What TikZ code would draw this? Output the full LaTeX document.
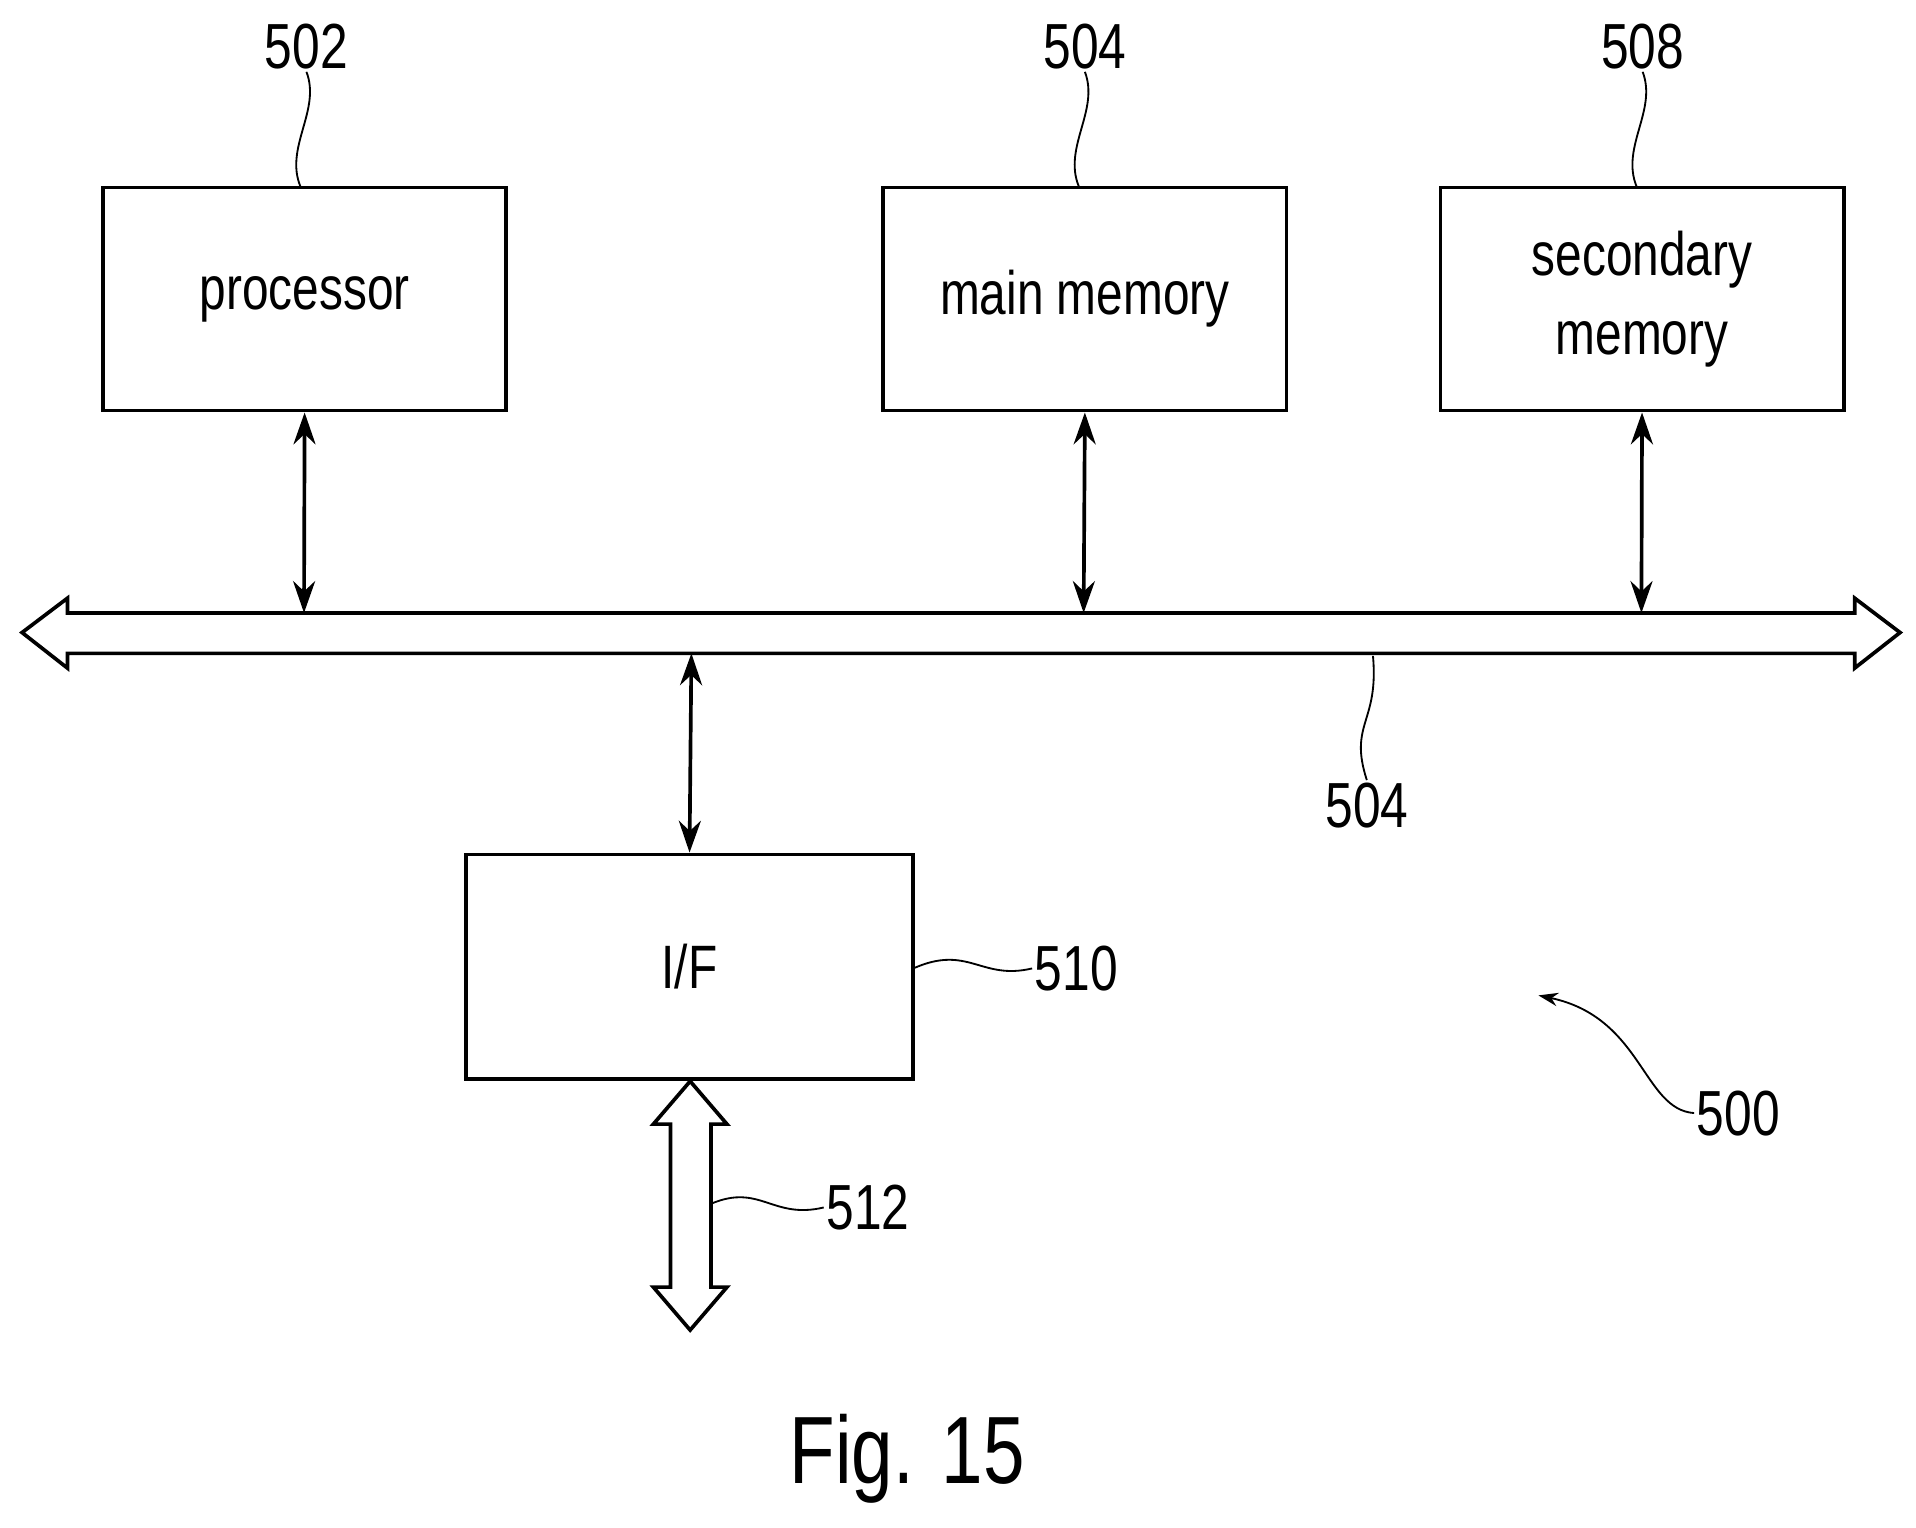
\documentclass[tikz,border=0pt]{standalone}
\usepackage{fontspec}
\setmainfont{Liberation Sans}[FakeStretch=0.78]
\usetikzlibrary{arrows.meta}
\begin{document}
\begin{tikzpicture}[x=1pt,y=-1pt,
  box/.style={draw,line width=3pt,minimum width=329pt,minimum height=182pt,inner sep=0pt,font=\fontsize{50}{60}\selectfont,align=center},
  lab/.style={font=\fontsize{52}{60}\selectfont,inner sep=2pt},
  conn/.style={line width=3pt,{Stealth[length=26pt,width=18pt]}-{Stealth[length=26pt,width=18pt]}},
  lead/.style={line width=1.5pt},
  fat/.style={draw,line width=3pt,fill=white,line join=miter}]
\useasboundingbox (0,0) rectangle (1563,1246);
\node[box] (p) at (248.5,244) {processor};
\node[box] (m) at (885,244) {main memory};
\node[box] (s) at (1339.5,244) {secondary\\[4pt]memory};
\node[box,minimum width=365pt,minimum height=183pt] (if) at (562.5,788.5) {I/F};
% bus
\draw[fat] (18,516) -- (55,488) -- (55,500) -- (1513,500) -- (1513,488) -- (1550,516) -- (1513,545) -- (1513,533) -- (55,533) -- (55,545) -- cycle;
\coordinate (b1) at (248,500); \coordinate (b2) at (884,500); \coordinate (b3) at (1339,500); \coordinate (b4) at (564,533);
\draw[conn] (p.south) -- (b1);
\draw[conn] (m.south) -- (b2);
\draw[conn] (s.south) -- (b3);
\draw[conn] (b4) -- (if.north);
% fat arrow 512
\draw[fat] (563,882) -- (593,917) -- (580,917) -- (580,1050) -- (593,1050) -- (563,1085) -- (533,1050) -- (547,1050) -- (547,917) -- (533,917) -- cycle;
% labels
\node[lab] (l502) at (250,38) {502};
\node[lab] (l504) at (885,38) {504};
\node[lab] (l508) at (1340,38) {508};
\node[lab] (l504b) at (1115,657) {504};
\node[lab] (l510) at (878,790) {510};
\node[lab] (l512) at (708,985) {512};
\node[lab] (l500) at (1418,908) {500};
\node[font=\fontsize{78}{90}\selectfont] (fig) at (740,1190) {Fig. 15};
\draw[lead] (l502.south) .. controls (262,90) and (232,120) .. (245,152);
\draw[lead] (l504.south) .. controls (897,90) and (867,120) .. (880,152);
\draw[lead] (l508.south) .. controls (1352,90) and (1322,120) .. (1335,152);
\draw[lead] (1120,535) .. controls (1125,590) and (1100,590) .. (l504b.north);
\draw[lead] (745,790) .. controls (790,770) and (800,800) .. (l510.west);
\draw[lead] (580,982) .. controls (620,965) and (630,995) .. (l512.west);
\draw[lead,-{Stealth[length=16pt,width=11pt]}] (l500.west) .. controls (1340,905) and (1340,830) .. (1255,812);
\end{tikzpicture}
\end{document}
